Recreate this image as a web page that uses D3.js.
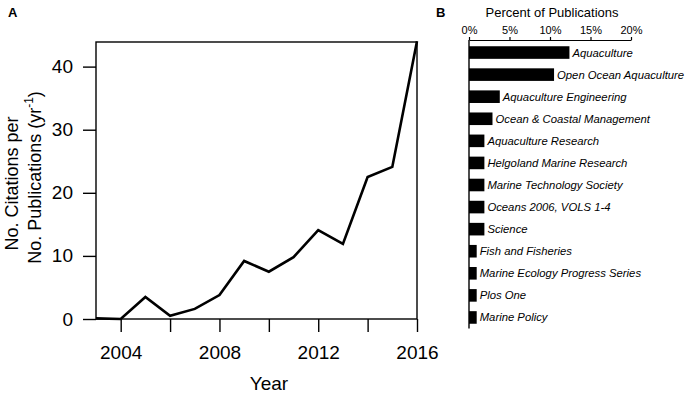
<!DOCTYPE html>
<html>
<head>
<meta charset="utf-8">
<script src="https://cdn.jsdelivr.net/npm/d3@7"></script>
<style>
  body { margin: 0; background: #fff; }
  svg { font-family: "Liberation Sans", Arial, sans-serif; }
</style>
</head>
<body>
<div id="chart"></div>
<script>
// Panel A: citations per publication by year
const years = [2003, 2004, 2005, 2006, 2007, 2008, 2009, 2010, 2011, 2012, 2013, 2014, 2015, 2016];
const citationsPerPub = [0.1, 0, 3.5, 0.5, 1.6, 3.8, 9.2, 7.5, 9.8, 14.1, 11.9, 22.5, 24.1, 44.0];
const yTicksA = [0, 10, 20, 30, 40];
const xTicksA = [2004, 2006, 2008, 2010, 2012, 2014, 2016];
const xLabelsA = [2004, 2008, 2012, 2016];

// Panel B: percent of publications by journal
const journals = [
    "Aquaculture", "Open Ocean Aquaculture", "Aquaculture Engineering",
    "Ocean & Coastal Management", "Aquaculture Research", "Helgoland Marine Research",
    "Marine Technology Society", "Oceans 2006, VOLS 1-4", "Science",
    "Fish and Fisheries", "Marine Ecology Progress Series", "Plos One", "Marine Policy"
];
const percentPubs = [12.4, 10.5, 3.8, 2.9, 1.9, 1.9, 1.9, 1.9, 1.9, 0.95, 0.95, 0.95, 0.95];
const xTicksB = [0, 5, 10, 15, 20];

const width = 686;
const height = 393;

const svg = d3.select('#chart')
    .append('svg')
    .attr('width', width)
    .attr('height', height);

// ---------- Panel A ----------
const x = d3.scaleLinear().domain([2003, 2016]).range([96, 417]);
const y = d3.scaleLinear().domain([0, 43.9]).range([319, 42]);

// Frame
svg.append('rect')
    .attr('x', x.range()[0])
    .attr('y', y.range()[1])
    .attr('width', x.range()[1] - x.range()[0])
    .attr('height', y.range()[0] - y.range()[1])
    .attr('fill', 'none')
    .attr('stroke', '#000')
    .attr('stroke-width', 1.4);

// Y axis
const yAxis = svg.append('g')
    .attr('transform', `translate(${x.range()[0]},0)`)
    .call(d3.axisLeft(y).tickValues(yTicksA).tickSize(13).tickSizeOuter(0).tickPadding(10));
yAxis.select('.domain').remove();
yAxis.selectAll('line').attr('stroke-width', 1.4);
yAxis.selectAll('text')
    .style('font-size', '19px')
    .attr('fill', '#000');

// X axis
const xAxis = svg.append('g')
    .attr('transform', `translate(0,${y.range()[0]})`)
    .call(d3.axisBottom(x)
        .tickValues(xTicksA)
        .tickSize(13)
        .tickSizeOuter(0)
        .tickPadding(14)
        .tickFormat(d => xLabelsA.includes(d) ? d3.format('d')(d) : ''));
xAxis.select('.domain').remove();
xAxis.selectAll('line').attr('stroke-width', 1.4);
xAxis.selectAll('text')
    .style('font-size', '19px')
    .attr('fill', '#000');

// Line
const line = d3.line()
    .x((d, i) => x(years[i]))
    .y(d => y(d));

svg.append('path')
    .datum(citationsPerPub)
    .attr('d', line)
    .attr('fill', 'none')
    .attr('stroke', '#000')
    .attr('stroke-width', 2.6)
    .attr('stroke-linejoin', 'miter');

// Axis titles
svg.append('text')
    .attr('x', 269)
    .attr('y', 383)
    .attr('text-anchor', 'middle')
    .attr('dominant-baseline', 'central')
    .style('font-size', '19px')
    .text('Year');

const yMid = (y.range()[0] + y.range()[1]) / 2;
svg.append('text')
    .attr('transform', `translate(12,${yMid + 3}) rotate(-90)`)
    .attr('text-anchor', 'middle')
    .attr('dominant-baseline', 'central')
    .style('font-size', '18px')
    .text('No. Citations per');

const yLab2 = svg.append('text')
    .attr('transform', `translate(35,${yMid - 3}) rotate(-90)`)
    .attr('text-anchor', 'middle')
    .attr('dominant-baseline', 'central')
    .style('font-size', '18px');
yLab2.append('tspan').text('No. Publications (yr');
yLab2.append('tspan').attr('dy', -6).style('font-size', '12px').text('-1');
yLab2.append('tspan').attr('dy', 6).text(')');

// Panel letters
svg.append('text')
    .attr('x', 8).attr('y', 17)
    .style('font-size', '13px').style('font-weight', 'bold')
    .text('A');
svg.append('text')
    .attr('x', 436).attr('y', 17)
    .style('font-size', '13px').style('font-weight', 'bold')
    .text('B');

// ---------- Panel B ----------
const xb = d3.scaleLinear().domain([0, 20]).range([469, 631]);
const yb = d3.scaleBand()
    .domain(journals)
    .range([41.5, 328.5])
    .paddingInner(0.43)
    .paddingOuter(0.215);

const xbAxis = svg.append('g')
    .attr('transform', 'translate(0,40)')
    .call(d3.axisTop(xb).tickValues(xTicksB).tickSize(3).tickSizeOuter(0).tickPadding(3)
        .tickFormat(d => d + '%'));
xbAxis.select('.domain').attr('stroke-width', 1.2);
xbAxis.selectAll('line').attr('stroke-width', 1.2);
xbAxis.selectAll('text')
    .style('font-size', '11px')
    .attr('fill', '#000');

svg.append('text')
    .attr('x', (xb.range()[0] + xb.range()[1]) / 2 + 2)
    .attr('y', 12)
    .attr('text-anchor', 'middle')
    .attr('dominant-baseline', 'central')
    .style('font-size', '13px')
    .text('Percent of Publications');

// Vertical axis line
svg.append('line')
    .attr('x1', xb(0)).attr('x2', xb(0))
    .attr('y1', 40).attr('y2', yb.range()[1])
    .attr('stroke', '#000')
    .attr('stroke-width', 1.4);

svg.selectAll('.bar')
    .data(percentPubs)
    .enter()
    .append('rect')
    .attr('class', 'bar')
    .attr('x', xb(0))
    .attr('y', (d, i) => yb(journals[i]))
    .attr('width', d => xb(d) - xb(0))
    .attr('height', yb.bandwidth())
    .attr('fill', '#000');

svg.selectAll('.bar-label')
    .data(percentPubs)
    .enter()
    .append('text')
    .attr('class', 'bar-label')
    .attr('x', d => xb(d) + 3)
    .attr('y', (d, i) => yb(journals[i]) + yb.bandwidth() / 2)
    .attr('dominant-baseline', 'central')
    .style('font-size', '11.3px')
    .style('font-style', 'italic')
    .text((d, i) => journals[i]);
</script>
</body>
</html>
